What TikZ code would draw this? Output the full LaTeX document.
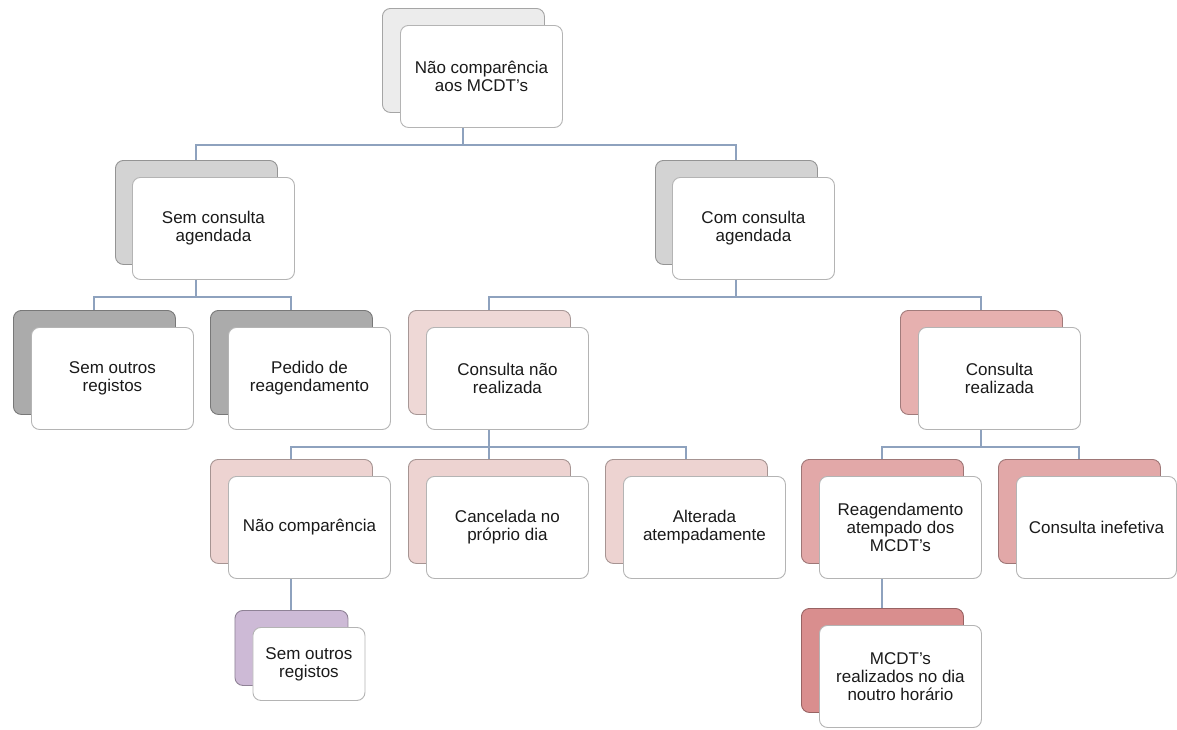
\documentclass[tikz,border=0pt]{standalone}
\usepackage{fontspec}
\setmainfont{Liberation Sans}
\usetikzlibrary{backgrounds}
\definecolor{connc}{HTML}{8EA2BE}
\definecolor{frontline}{HTML}{B4B4B4}
\definecolor{textcol}{HTML}{1A1A1A}
\definecolor{cRoot}{HTML}{ECECEC}
\definecolor{cGrayA}{HTML}{D3D3D3}
\definecolor{cGrayB}{HTML}{ABABAB}
\definecolor{cPinkA}{HTML}{EED8D6}
\definecolor{cPinkB}{HTML}{EDD3D1}
\definecolor{cRedA}{HTML}{E6B0AF}
\definecolor{cRedB}{HTML}{E2A8A8}
\definecolor{cRedC}{HTML}{D98E8E}
\definecolor{cPurple}{HTML}{CDBAD6}
\tikzset{
  backbox/.style={rectangle, rounded corners=8pt, minimum width=162pt, minimum height=104pt,
    anchor=north west, inner sep=0pt, line width=0.9pt, fill=#1, draw=#1!70!black},
  frontbox/.style={rectangle, rounded corners=8pt, minimum width=162pt, minimum height=102pt,
    anchor=north west, inner sep=2pt, draw=frontline, fill=white, line width=0.9pt,
    align=center, text=textcol, font=\fontsize{17}{18}\selectfont},
  smallback/.style={backbox=#1, minimum width=113pt, minimum height=75pt},
  smallfront/.style={frontbox, minimum width=112pt, minimum height=73pt},
  conn/.style={draw=connc, line width=2pt},
}
\begin{document}
\begin{tikzpicture}[x=1pt,y=-1pt]
\useasboundingbox (0,0) rectangle (1177,729);
% level 0
\node[backbox=cRoot] (rootb) at (382,8) {};
\node[frontbox] (root) at (400,25) {Não comparência\\aos MCDT's};
% level 1
\node[backbox=cGrayA] (semb) at (115,160) {};
\node[frontbox] (sem) at (132,177) {Sem consulta\\agendada};
\node[backbox=cGrayA] (comb) at (655,160) {};
\node[frontbox] (com) at (672,177) {Com consulta\\agendada};
% level 2
\node[backbox=cGrayB] (soab) at (13,310) {};
\node[frontbox] (soa) at (31,327) {Sem outros\\registos};
\node[backbox=cGrayB] (pedb) at (210,310) {};
\node[frontbox] (ped) at (228,327) {Pedido de\\reagendamento};
\node[backbox=cPinkA] (cnrb) at (408,310) {};
\node[frontbox] (cnr) at (426,327) {Consulta não\\realizada};
\node[backbox=cRedA] (crb) at (900,310) {};
\node[frontbox] (cr) at (918,327) {Consulta\\realizada};
% level 3
\node[backbox=cPinkB] (ncb) at (210,459) {};
\node[frontbox] (nc) at (228,476) {Não comparência};
\node[backbox=cPinkB] (canb) at (408,459) {};
\node[frontbox] (can) at (426,476) {Cancelada no\\próprio dia};
\node[backbox=cPinkB] (altb) at (605,459) {};
\node[frontbox] (alt) at (623,476) {Alterada\\atempadamente};
\node[backbox=cRedB] (reab) at (801,459) {};
\node[frontbox] (rea) at (819,476) {Reagendamento\\atempado dos\\MCDT's};
\node[backbox=cRedB] (infb) at (998,459) {};
\node[frontbox, minimum width=160pt] (inf) at (1016,476) {Consulta inefetiva};
% level 4
\node[smallback=cPurple] (sobb) at (234.5,610) {};
\node[smallfront] (sob) at (252.5,627) {Sem outros\\registos};
\node[backbox=cRedC] (mcdb) at (801,608) {};
\node[frontbox] (mcd) at (819,625) {MCDT's\\realizados no dia\\noutro horário};
% connectors
\begin{scope}[on background layer]
\fill[white] (0,0) rectangle (1177,729);
\draw[conn] (rootb.south) -- ++(0,32) -| (semb.north);
\draw[conn] (rootb.south) -- ++(0,32) -| (comb.north);
\draw[conn] (semb.south) -- ++(0,32) -| (soab.north);
\draw[conn] (semb.south) -- ++(0,32) -| (pedb.north);
\draw[conn] (comb.south) -- ++(0,32) -| (cnrb.north);
\draw[conn] (comb.south) -- ++(0,32) -| (crb.north);
\draw[conn] (cnrb.south) -- ++(0,32) -| (ncb.north);
\draw[conn] (cnrb.south) -- ++(0,32) -| (canb.north);
\draw[conn] (cnrb.south) -- ++(0,32) -| (altb.north);
\draw[conn] (crb.south) -- ++(0,32) -| (reab.north);
\draw[conn] (crb.south) -- ++(0,32) -| (infb.north);
\draw[conn] (ncb.south) -- (sobb.north);
\draw[conn] (reab.south) -- (mcdb.north);
\end{scope}
\end{tikzpicture}
\end{document}
